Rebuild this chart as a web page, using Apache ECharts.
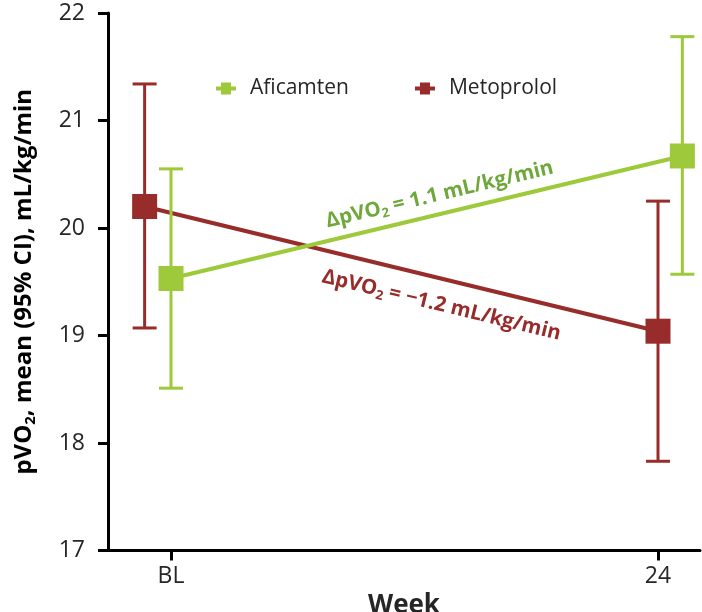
<!DOCTYPE html>
<html>
<head>
<meta charset="utf-8">
<script src="https://cdn.jsdelivr.net/npm/echarts@6/dist/echarts.min.js"></script>
<style>
  html, body { margin: 0; padding: 0; background: #fff; }
  #chart { width: 702px; height: 612px; }
</style>
</head>
<body>
<div id="chart"></div>
<script>
// Study visits (weeks) and their tick labels
const weeks = [0, 24];
const weekLabels = ['BL', '24'];

// Aficamten: mean pVO2 and 95% CI
const afiMean = [19.53, 20.67];
const afiLow = [18.51, 19.57];
const afiHigh = [20.55, 21.78];

// Metoprolol: mean pVO2 and 95% CI
const metMean = [20.20, 19.04];
const metLow = [19.07, 17.83];
const metHigh = [21.34, 20.25];

// Horizontal dodge (in weeks) so the two arms sit side by side
const afiDodge = [0, 1.2];
const metDodge = [-1.3, 0];

// Change from baseline printed along each line
const afiDelta = '1.1';
const metDelta = '\u22121.2';

const yTicks = [17, 18, 19, 20, 21, 22];

const GREEN = '#9dc93b';
const GREEN_TEXT = '#6fa83a';
const RED = '#982c2b';
const FONT = '"Open Sans", "Noto Sans", sans-serif';
const INK = '#262626';

// Legend glyph: short bar with a small square in the middle
const LEGEND_ICON = 'path://M0,4 L5,4 L5,0 L15,0 L15,4 L20,4 L20,8 L15,8 L15,12 L5,12 L5,8 L0,8 Z';

const afiX = weeks.map((w, i) => w + afiDodge[i]);
const metX = weeks.map((w, i) => w + metDodge[i]);

function errorBars(color) {
  return function (params, api) {
    const x = api.value(0);
    const top = api.coord([x, api.value(2)]);
    const bot = api.coord([x, api.value(1)]);
    const half = 12;
    const style = { stroke: color, lineWidth: 3 };
    return {
      type: 'group',
      children: [
        { type: 'line', shape: { x1: top[0], y1: top[1], x2: bot[0], y2: bot[1] }, style },
        { type: 'line', shape: { x1: top[0] - half, y1: top[1], x2: top[0] + half, y2: top[1] }, style },
        { type: 'line', shape: { x1: bot[0] - half, y1: bot[1], x2: bot[0] + half, y2: bot[1] }, style }
      ]
    };
  };
}

const chart = echarts.init(document.getElementById('chart'), null, { renderer: 'canvas' });

const option = {
  animation: false,
  backgroundColor: '#fff',
  grid: { left: 108, right: 2, top: 13, bottom: 61.5, containLabel: false, outerBoundsMode: 'none' },
  legend: {
    data: [
      { name: 'Aficamten', icon: LEGEND_ICON, itemStyle: { color: GREEN } },
      { name: 'Metoprolol', icon: LEGEND_ICON, itemStyle: { color: RED } }
    ],
    left: 216,
    top: 78,
    padding: 0,
    itemWidth: 20,
    itemHeight: 12,
    itemGap: 66,
    textStyle: { fontSize: 21, color: INK, fontFamily: FONT, padding: [0, 0, 0, 9] }
  },
  xAxis: {
    type: 'value',
    min: -3.105,
    max: 26.07,
    name: 'Week',
    nameLocation: 'middle',
    nameGap: 34,
    nameTextStyle: { fontSize: 26, fontWeight: 'bold', color: INK, fontFamily: FONT },
    splitLine: { show: false },
    axisLine: { onZero: false, lineStyle: { color: '#000', width: 3 } },
    axisTick: { show: true, customValues: weeks, length: 10, lineStyle: { color: '#000', width: 3 } },
    axisLabel: {
      customValues: weeks,
      margin: 14,
      fontSize: 23,
      color: INK,
      fontFamily: FONT,
      formatter: v => weekLabels[weeks.indexOf(v)]
    }
  },
  yAxis: {
    type: 'value',
    min: yTicks[0],
    max: yTicks[yTicks.length - 1],
    interval: 1,
    name: '{t|pVO}{s|2}{t|, mean (95% CI), mL/kg/min}',
    nameLocation: 'middle',
    nameGap: 70,
    nameRotate: 90,
    nameTextStyle: {
      color: '#000',
      rich: {
        t: { fontSize: 24, fontWeight: 'bold', fontFamily: FONT, color: '#000', lineHeight: 28 },
        s: { fontSize: 15, fontWeight: 'bold', fontFamily: FONT, color: '#000', lineHeight: 15, verticalAlign: 'bottom' }
      }
    },
    splitLine: { show: false },
    axisLine: { show: true, onZero: false, lineStyle: { color: '#000', width: 3 } },
    axisTick: { show: true, length: 10, lineStyle: { color: '#000', width: 3 } },
    axisLabel: { margin: 23, fontSize: 23, color: INK, fontFamily: FONT }
  },
  series: [
    {
      name: 'Metoprolol CI',
      type: 'custom',
      renderItem: errorBars(RED),
      data: metX.map((x, i) => [x, metLow[i], metHigh[i]]),
      encode: { x: 0, y: [1, 2] },
      z: 2,
      silent: true
    },
    {
      name: 'Metoprolol',
      type: 'line',
      data: metX.map((x, i) => [x, metMean[i]]),
      symbol: 'rect',
      symbolSize: 25,
      color: RED,
      lineStyle: { color: RED, width: 4 },
      itemStyle: { color: RED },
      z: 3
    },
    {
      name: 'Aficamten CI',
      type: 'custom',
      renderItem: errorBars(GREEN),
      data: afiX.map((x, i) => [x, afiLow[i], afiHigh[i]]),
      encode: { x: 0, y: [1, 2] },
      z: 4,
      silent: true
    },
    {
      name: 'Aficamten',
      type: 'line',
      data: afiX.map((x, i) => [x, afiMean[i]]),
      symbol: 'rect',
      symbolSize: 25,
      color: GREEN,
      lineStyle: { color: GREEN, width: 4 },
      itemStyle: { color: GREEN },
      z: 5
    }
  ]
};

chart.setOption(option);

// Rotated change-from-baseline labels that follow each line
function deltaLabel(xs, ys, t, offset, value, color) {
  const p0 = chart.convertToPixel({ gridIndex: 0 }, [xs[0], ys[0]]);
  const p1 = chart.convertToPixel({ gridIndex: 0 }, [xs[1], ys[1]]);
  const dx = p1[0] - p0[0], dy = p1[1] - p0[1];
  const len = Math.hypot(dx, dy);
  const ang = Math.atan2(dy, dx);
  // normal pointing "up" on screen relative to the line
  const nx = dy / len, ny = -dx / len;
  const cx = p0[0] + dx * t + nx * offset;
  const cy = p0[1] + dy * t + ny * offset;
  return {
    type: 'text',
    x: cx,
    y: cy,
    rotation: -ang,
    z: 10,
    style: {
      text: '{t|\u0394pVO}{s|2}{t| = ' + value + ' mL/kg/min}',
      align: 'center',
      verticalAlign: 'middle',
      rich: {
        t: { fontSize: 20.5, fontWeight: 'bold', fontFamily: FONT, fill: color, lineHeight: 24 },
        s: { fontSize: 13, fontWeight: 'bold', fontFamily: FONT, fill: color, lineHeight: 13, verticalAlign: 'bottom' }
      }
    }
  };
}

chart.setOption({
  graphic: [
    deltaLabel(afiX, afiMean, 0.534, 19, afiDelta, GREEN_TEXT),
    deltaLabel(metX, metMean, 0.59, -26, metDelta, RED)
  ]
});
</script>
</body>
</html>
